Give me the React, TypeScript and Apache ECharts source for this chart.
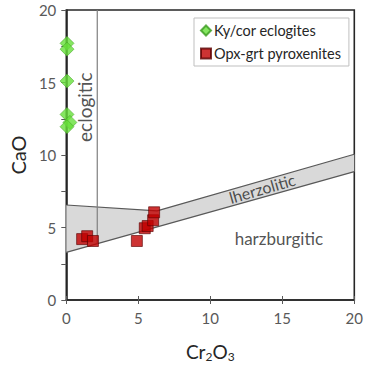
import React, { useEffect, useRef } from "react";
import * as echarts from "echarts";

const eclogiteX = [0.05, 0.05, 0.05, 0.05, 0.25, 0.05];
const eclogiteY = [17.7, 17.3, 15.1, 12.8, 12.25, 11.95];
const pyroxX = [1.1, 1.45, 1.85, 4.9, 5.45, 5.65, 6.03, 6.1];
const pyroxY = [4.2, 4.4, 4.07, 4.07, 4.95, 5.1, 5.5, 6.05];

const regionX = [0, 0, 6.3, 20, 20];
const regionY = [3.28, 6.55, 6.15, 10.05, 8.85];
const lowerLineX = [0, 20];
const lowerLineY = [3.28, 8.85];
const upperLineX = [0, 6.3, 20];
const upperLineY = [6.55, 6.15, 10.05];
const verticalX = [2.15, 2.15];
const verticalY = [20, 3.88];

const fieldNames = ["eclogitic", "lherzolitic", "harzburgitic"];
const fieldX = [1.27, 13.6, 14.76];
const fieldY = [13.3, 7.7, 4.23];
const fieldRotate = [90, 16, 0];
const fieldSize = [19, 16, 17];

const FONT = "Lato, 'Open Sans', sans-serif";

const zip = (xs: number[], ys: number[]) => xs.map((x, i) => [x, ys[i]]);

export default function App() {
  const ref = useRef<HTMLDivElement>(null);
  useEffect(() => {
    if (!ref.current) return;
    const chart = echarts.init(ref.current, undefined, { renderer: "svg" });
    chart.setOption({
      animation: false,
      backgroundColor: "#ffffff",
      grid: {
        left: 63,
        right: 9,
        top: 10,
        bottom: 64,
        show: true,
        borderColor: "#262626",
        borderWidth: 1.6,
        backgroundColor: "transparent",
      },
      legend: {
        orient: "vertical",
        left: 194,
        top: 18,
        padding: [5, 8, 5, 6],
        itemGap: 8,
        itemWidth: 10,
        itemHeight: 10,
        borderColor: "#bfbfbf",
        borderWidth: 1,
        textStyle: { fontFamily: FONT, fontSize: 14.5, color: "#262626", padding: [0, 0, 0, -2] },
        data: ["Ky/cor eclogites", "Opx-grt pyroxenites"],
      },
      xAxis: [
        {
          type: "value",
          min: 0,
          max: 20,
          interval: 5,
          name: "{a|Cr}{s|2}{a|O}{s|3}",
          nameLocation: "middle",
          nameGap: 40,
          nameTextStyle: {
            rich: {
              a: { fontFamily: FONT, fontSize: 19, color: "#262626" },
              s: { fontFamily: FONT, fontSize: 12, color: "#262626", verticalAlign: "bottom", padding: [10, 0, 0, 0] },
            },
          },
          axisLine: { show: true, lineStyle: { color: "#262626", width: 1.6 } },
          axisTick: { show: true, length: 4, lineStyle: { color: "#595959" } },
          axisLabel: { fontFamily: FONT, fontSize: 15, color: "#595959", margin: 10 },
          splitLine: { show: false },
        },
        {
          type: "value",
          min: 0,
          max: 20,
          interval: 5,
          position: "bottom",
          axisLine: { show: false },
          axisTick: { show: true, inside: true, length: 4, lineStyle: { color: "#595959" } },
          axisLabel: { show: false },
          splitLine: { show: false },
        },
      ],
      yAxis: {
        type: "value",
        min: 0,
        max: 20,
        interval: 5,
        name: "CaO",
        nameLocation: "middle",
        nameGap: 38,
        nameTextStyle: { fontFamily: FONT, fontSize: 20, color: "#262626" },
        axisLine: { show: true, lineStyle: { color: "#262626", width: 1.6 } },
        axisTick: { show: true, length: 5, lineStyle: { color: "#595959" } },
        minorTick: { show: true, splitNumber: 2, length: 5, lineStyle: { color: "#595959" } },
        axisLabel: { fontFamily: FONT, fontSize: 15, color: "#595959", margin: 10 },
        splitLine: { show: false },
      },
      series: [
        {
          type: "custom",
          silent: true,
          z: 1,
          data: [[0, 0]],
          renderItem: (params: any, api: any) => {
            const pts = regionX.map((x, i) => api.coord([x, regionY[i]]));
            return { type: "polygon", shape: { points: pts }, style: { fill: "#d9d9d9" } };
          },
        },
        {
          type: "line",
          data: zip(lowerLineX, lowerLineY),
          symbol: "none",
          silent: true,
          z: 2,
          lineStyle: { color: "#595959", width: 1.2 },
        },
        {
          type: "line",
          data: zip(upperLineX, upperLineY),
          symbol: "none",
          silent: true,
          z: 2,
          lineStyle: { color: "#595959", width: 1.2 },
        },
        {
          type: "line",
          data: zip(verticalX, verticalY),
          symbol: "none",
          silent: true,
          z: 2,
          lineStyle: { color: "#7f7f7f", width: 1.2 },
        },
        {
          type: "scatter",
          silent: true,
          z: 3,
          symbolSize: 0,
          data: fieldNames.map((n, i) => ({
            value: [fieldX[i], fieldY[i]],
            label: {
              show: true,
              position: "inside",
              formatter: n,
              rotate: fieldRotate[i],
              fontFamily: FONT,
              fontSize: fieldSize[i],
              color: "#262626",
            },
          })),
        },
        {
          name: "Ky/cor eclogites",
          type: "scatter",
          z: 5,
          symbol: "diamond",
          symbolSize: 14,
          clip: false,
          itemStyle: { color: "#66e03a", borderColor: "#3a9a1e", borderWidth: 0.6 },
          data: zip(eclogiteX, eclogiteY),
        },
        {
          name: "Opx-grt pyroxenites",
          type: "scatter",
          z: 5,
          symbol: "rect",
          symbolSize: 11,
          itemStyle: { color: "#c00000", borderColor: "#5a0000", borderWidth: 0.8 },
          data: zip(pyroxX, pyroxY),
        },
      ],
    });
    return () => chart.dispose();
  }, []);
  return (
    <div
      ref={ref}
      style={{ position: "fixed", left: 0, top: 0, width: 366, height: 367 }}
    />
  );
}
